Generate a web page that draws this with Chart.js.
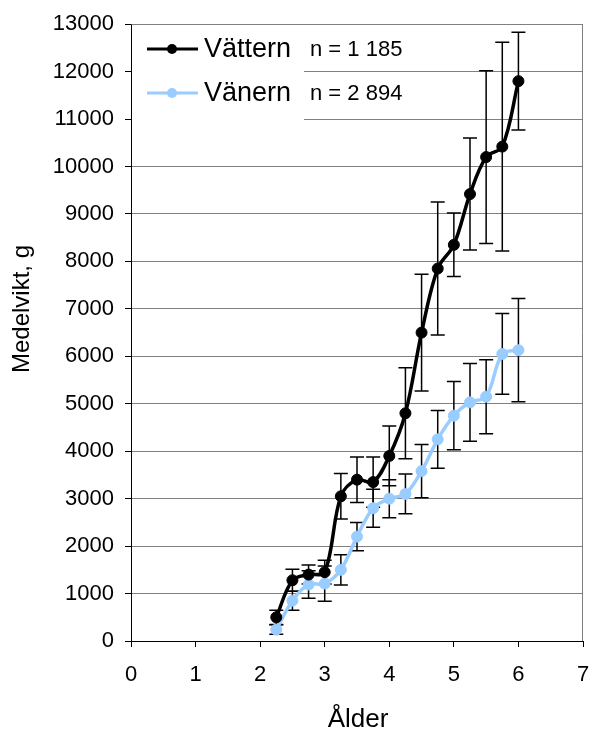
<!DOCTYPE html>
<html>
<head>
<meta charset="utf-8">
<script src="https://cdn.jsdelivr.net/npm/chart.js@4.4.1/dist/chart.umd.min.js"></script>
<style>
  html, body { margin: 0; padding: 0; background: #fff; }
  #wrap { width: 590px; height: 731px; }
</style>
</head>
<body>
<div id="wrap"><canvas id="c" width="590" height="731"></canvas></div>
<script>
// Age classes (years)
const ages = [2.25, 2.5, 2.75, 3.0, 3.25, 3.5, 3.75, 4.0, 4.25, 4.5, 4.75, 5.0, 5.25, 5.5, 5.75, 6.0];

// Mean weight (g) and error (± g) per age class
const vatternMean = [500, 1280, 1400, 1450, 3050, 3400, 3350, 3900, 4800, 6500, 7850, 8350, 9420, 10200, 10420, 11800];
const vatternErr  = [150, 230, 200, 250, 480, 480, 530, 630, 960, 1230, 1400, 670, 1180, 1820, 2200, 1030];
const vanernMean  = [240, 850, 1190, 1210, 1500, 2200, 2800, 3000, 3100, 3580, 4250, 4750, 5030, 5150, 6050, 6130];
const vanernErr   = [100, 200, 290, 370, 320, 300, 400, 400, 420, 560, 610, 720, 820, 780, 850, 1090];

const seriesNames = ['Vättern', 'Vänern'];
const sampleSizes = ['n = 1 185', 'n = 2 894'];
const xTitle = 'Ålder';
const yTitle = 'Medelvikt, g';

const FONT = '"Liberation Sans", Arial, sans-serif';
const BLUE = '#99CCFF';

const toPoints = (xs, ys) => xs.map((x, i) => ({ x: x, y: ys[i] }));

// Vertical error bars with caps, drawn under the lines and markers
const errorBars = {
  id: 'errorBars',
  beforeDatasetsDraw(chart) {
    const { ctx, scales: { x, y } } = chart;
    ctx.save();
    ctx.strokeStyle = '#000';
    ctx.lineWidth = 1.5;
    const cap = 7;
    chart.data.datasets.forEach(ds => {
      ds.data.forEach((p, i) => {
        const e = ds.errors[i];
        const px = x.getPixelForValue(p.x);
        const top = y.getPixelForValue(p.y + e);
        const bot = y.getPixelForValue(p.y - e);
        ctx.beginPath();
        ctx.moveTo(px, top); ctx.lineTo(px, bot);
        ctx.moveTo(px - cap, top); ctx.lineTo(px + cap, top);
        ctx.moveTo(px - cap, bot); ctx.lineTo(px + cap, bot);
        ctx.stroke();
      });
    });
    ctx.restore();
  }
};

// Gray frame on the top and right of the plot area
const frame = {
  id: 'frame',
  beforeDatasetsDraw(chart) {
    const { ctx, chartArea: a } = chart;
    ctx.save();
    ctx.strokeStyle = '#808080';
    ctx.lineWidth = 1;
    ctx.beginPath();
    ctx.moveTo(Math.round(a.left) + 0.5, Math.round(a.top) + 0.5);
    ctx.lineTo(Math.round(a.right) - 0.5, Math.round(a.top) + 0.5);
    ctx.lineTo(Math.round(a.right) - 0.5, Math.round(a.bottom));
    ctx.stroke();
    ctx.restore();
  }
};

// Legend box inside the plot, axis titles
const overlay = {
  id: 'overlay',
  afterDraw(chart) {
    const { ctx, chartArea: a } = chart;
    ctx.save();
    // legend background
    ctx.fillStyle = '#fff';
    ctx.fillRect(a.left + 1, a.top + 1, 172, 95);
    const rows = [49, 93];
    chart.data.datasets.forEach((ds, i) => {
      const yy = rows[i];
      ctx.strokeStyle = ds.borderColor;
      ctx.lineWidth = 3;
      ctx.beginPath();
      ctx.moveTo(a.left + 16, yy); ctx.lineTo(a.left + 67, yy);
      ctx.stroke();
      ctx.fillStyle = ds.borderColor;
      ctx.beginPath();
      ctx.arc(a.left + 41, yy, 5, 0, Math.PI * 2);
      ctx.fill();
      ctx.fillStyle = '#000';
      ctx.font = '27px ' + FONT;
      ctx.textAlign = 'left';
      ctx.textBaseline = 'middle';
      ctx.fillText(ds.label, a.left + 73, yy + 1);
      ctx.font = '22px ' + FONT;
      ctx.fillText(sampleSizes[i], a.left + 179, yy + 1);
    });
    // axis titles
    ctx.fillStyle = '#000';
    ctx.font = '26px ' + FONT;
    ctx.textAlign = 'center';
    ctx.textBaseline = 'alphabetic';
    ctx.fillText(xTitle, 358, 727);
    ctx.translate(29, 309);
    ctx.rotate(-Math.PI / 2);
    ctx.font = '24px ' + FONT;
    ctx.fillText(yTitle, 0, 0);
    ctx.restore();
  }
};

new Chart(document.getElementById('c'), {
  type: 'line',
  data: {
    datasets: [
      {
        label: seriesNames[0],
        data: toPoints(ages, vatternMean),
        errors: vatternErr,
        borderColor: '#000',
        backgroundColor: '#000',
        pointBackgroundColor: '#000',
        pointBorderColor: '#000',
        borderWidth: 3.5,
        pointRadius: 5.5,
        pointBorderWidth: 1,
        tension: 0.35,
        fill: false
      },
      {
        label: seriesNames[1],
        data: toPoints(ages, vanernMean),
        errors: vanernErr,
        borderColor: BLUE,
        backgroundColor: BLUE,
        pointBackgroundColor: BLUE,
        pointBorderColor: BLUE,
        borderWidth: 3.5,
        pointRadius: 5.5,
        pointBorderWidth: 1,
        tension: 0.35,
        fill: false
      }
    ]
  },
  options: {
    responsive: false,
    animation: false,
    devicePixelRatio: 1,
    layout: { padding: { top: 18, right: 7, left: 0, bottom: 0 } },
    plugins: { legend: { display: false }, tooltip: { enabled: false } },
    scales: {
      x: {
        type: 'linear',
        min: 0, max: 7,
        ticks: { stepSize: 1, color: '#000', font: { family: FONT, size: 22 }, padding: 15, maxRotation: 0,
                 callback: v => String(v) },
        grid: { drawOnChartArea: false, drawTicks: true, tickLength: 6, tickColor: '#000' },
        border: { color: '#000', width: 1 },
        afterFit(s) { s.height = 90; s.paddingLeft = 0; s.paddingRight = 0; }
      },
      y: {
        min: 0, max: 13000,
        ticks: { stepSize: 1000, color: '#000', font: { family: FONT, size: 22 }, padding: 11,
                 callback: v => String(v) },
        grid: { color: '#808080', lineWidth: 1, drawTicks: true, tickLength: 6, tickColor: '#000' },
        border: { color: '#000', width: 1 },
        afterFit(s) { s.width = 131; }
      }
    }
  },
  plugins: [frame, errorBars, overlay]
});
</script>
</body>
</html>
